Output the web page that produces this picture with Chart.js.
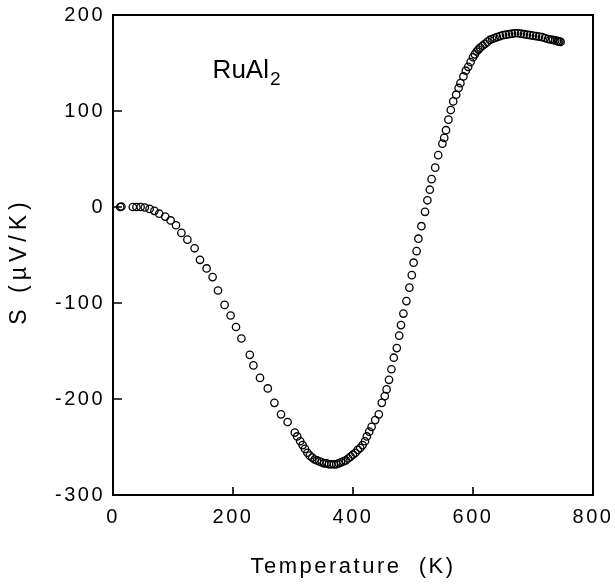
<!DOCTYPE html>
<html>
<head>
<meta charset="utf-8">
<script src="https://cdn.jsdelivr.net/npm/chart.js@4.4.0/dist/chart.umd.min.js"></script>
<style>
html,body{margin:0;padding:0;background:#fff;}
#wrap{width:615px;height:584px;}
</style>
</head>
<body>
<div id="wrap"><canvas id="c" width="615" height="584"></canvas></div>
<script>
// Temperature (K)
const temps = [12,14,33,39,46,53,61,69,77,87,96,105,114,124,136,145,156,166,175,186,196,205,214,228,234,245,258,269,280,291,303,307,312,316,320,324,328,332,336,340,344,348,352,356,360,364,368,372,376,380,384,388,392,396,400,404,408,412,416,420,423,427,431,437,443,448,453,456,460,464,468,473,477,480,484,489,494,498,501,506,509,514,520,524,528,531,537,542,549,552,555,559,563,567,572,576,579,584,588,592,596,600,603,606,609,612,616,620,624,628,632,636,640,645,650,655,660,665,670,675,680,685,690,695,700,705,710,715,720,725,729,733,737,740,742,744,746];
// Seebeck coefficient S (µV/K)
const seebeck = [0,0.5,0,0,0,-0.5,-2,-4,-7,-10,-14,-19,-27,-34,-43,-55,-64,-73,-87,-102,-113,-125,-137,-154,-165,-178,-189,-204,-216,-224,-235,-239,-244,-248,-252,-256,-259,-261,-263,-264,-265,-266,-267,-267,-268,-268,-268,-268,-267,-266,-265,-264,-262,-260,-258,-256,-253,-251,-248,-244,-239,-234,-229,-222,-216,-204,-197,-190,-180,-169,-157,-147,-134,-123,-111,-98,-84,-71,-58,-46,-33,-20,-5,7,18,29,41,54,66,72,80,91,101,110,117,124,129,136,142,146,151,156,159,162,164,166,168,170,172,174,175,176,177,178,179,179.5,180,180.5,181,181,180.5,180,179.5,179,178.5,178,177.5,177,176,175,174.5,174,173.5,173,172.5,172.5,172];
const xTicks = [0,200,400,600,800];
const yTicks = [-300,-200,-100,0,100,200];
const xTitle = 'Temperature  (K)';
const yTitle = 'S (µV/K)';
const sampleLabel = 'RuAl';
const sampleSub = '2';

const points = temps.map((t,i)=>({x:t,y:seebeck[i]}));
const FONT = '"Liberation Sans", Arial, Helvetica, sans-serif';

const spacingPlugin = {
  id:'spacing',
  beforeDraw(chart){ chart.ctx.letterSpacing = '2.5px'; }
};

const framePlugin = {
  id:'frame',
  afterDatasetsDraw(chart){
    const ctx = chart.ctx, a = chart.chartArea;
    const xs = chart.scales.x, ys = chart.scales.y;
    ctx.save();
    ctx.letterSpacing = '0px';
    ctx.strokeStyle = '#000';
    ctx.lineWidth = 2;
    ctx.strokeRect(a.left, a.top, a.right - a.left, a.bottom - a.top);
    ctx.lineWidth = 1.6;
    ctx.beginPath();
    xTicks.forEach(v=>{
      const px = xs.getPixelForValue(v);
      ctx.moveTo(px, a.bottom); ctx.lineTo(px, a.bottom - 8);
    });
    yTicks.forEach(v=>{
      const py = ys.getPixelForValue(v);
      ctx.moveTo(a.left, py); ctx.lineTo(a.left + 9, py);
    });
    ctx.stroke();
    // sample label
    ctx.fillStyle = '#000';
    ctx.textBaseline = 'alphabetic';
    ctx.textAlign = 'left';
    ctx.font = '26px ' + FONT;
    const lx = xs.getPixelForValue(166), ly = ys.getPixelForValue(134);
    ctx.fillText(sampleLabel, lx, ly);
    const w = ctx.measureText(sampleLabel).width;
    ctx.font = '19px ' + FONT;
    ctx.fillText(sampleSub, lx + w + 1, ly + 7);
    // y title
    ctx.font = '23px ' + FONT;
    ctx.letterSpacing = '5px';
    ctx.textAlign = 'center';
    ctx.textBaseline = 'middle';
    ctx.translate(20, 264);
    ctx.rotate(-Math.PI/2);
    ctx.fillText(yTitle, 3, 0);
    ctx.restore();
  }
};

new Chart(document.getElementById('c'), {
  type:'scatter',
  data:{datasets:[{
    data:points,
    pointStyle:'circle',
    pointRadius:3.7,
    pointBorderWidth:1.3,
    pointBorderColor:'#000',
    pointBackgroundColor:'rgba(255,255,255,0)',
    showLine:false,
    clip:false
  }]},
  options:{
    responsive:false,
    animation:false,
    events:[],
    layout:{padding:{left:0,right:22,top:15,bottom:0}},
    plugins:{legend:{display:false},tooltip:{enabled:false}},
    scales:{
      x:{
        type:'linear', min:0, max:800,
        afterBuildTicks(s){ s.ticks = xTicks.map(v=>({value:v})); },
        afterFit(s){ s.height = 89; s.paddingLeft = 0; s.paddingRight = 0; },
        grid:{display:false, drawTicks:false},
        border:{display:false},
        ticks:{color:'#000', font:{family:FONT, size:20}, padding:10, maxRotation:0},
        title:{display:true, text:xTitle, color:'#000', font:{family:FONT, size:22}, padding:{top:12}}
      },
      y:{
        type:'linear', min:-300, max:200,
        afterBuildTicks(s){ s.ticks = yTicks.map(v=>({value:v})); },
        afterFit(s){ s.width = 113; s.paddingTop = 0; s.paddingBottom = 0; },
        grid:{display:false, drawTicks:false},
        border:{display:false},
        ticks:{color:'#000', font:{family:FONT, size:20}, padding:8},
        title:{display:false}
      }
    }
  },
  plugins:[spacingPlugin, framePlugin]
});
</script>
</body>
</html>
